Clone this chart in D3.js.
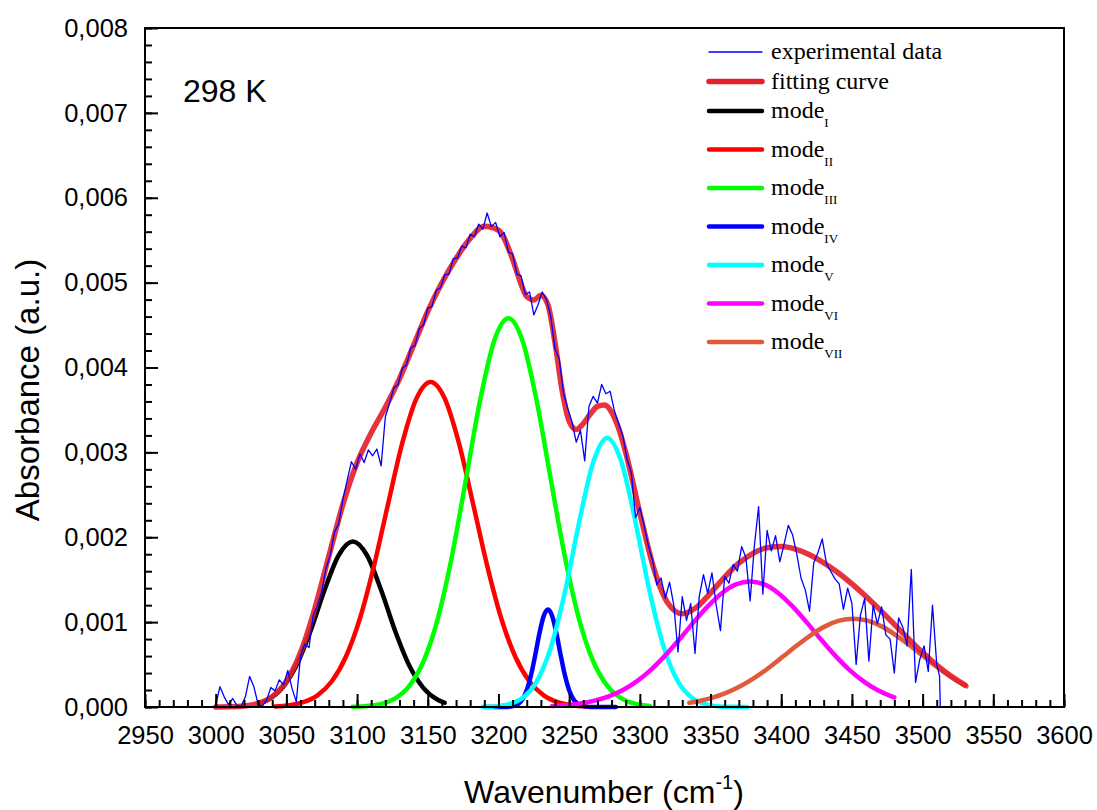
<!DOCTYPE html>
<html>
<head>
<meta charset="utf-8">
<script src="https://cdn.jsdelivr.net/npm/d3@7"></script>
<style>
  body { margin: 0; background: #fff; }
  svg { display: block; }
</style>
</head>
<body>
<svg id="svg" width="1097" height="810"></svg>
<script>
// all absorbance values below are in units of 1e-4 (a.u.)

// experimental spectrum [wavenumber, absorbance]
var expData = [
  [3000,0.2],[3003,2.4],[3006,1.2],[3009,0.3],[3012,1.0],[3015,0.2],[3018,0.1],[3021,1.2],
  [3024,3.6],[3027,2.4],[3030,0.3],[3033,0.1],[3036,0.8],[3039,2.3],[3042,1.9],[3045,3.2],
  [3048,2.6],[3051,4.3],[3054,2.2],[3057,0.6],[3060,6.0],[3063,7.4],[3066,7.0],[3069,10.8],
  [3072,12.0],[3075,13.6],[3078,16.3],[3081,17.9],[3084,20.6],[3087,21.6],[3090,24.5],[3093,26.7],
  [3096,28.9],[3099,28.0],[3102,29.8],[3105,28.8],[3108,30.3],[3111,29.6],[3114,30.4],[3117,28.4],
  [3120,34.2],[3123,35.8],[3126,37.6],[3129,38.0],[3132,39.9],[3135,40.3],[3138,42.3],[3141,42.6],
  [3144,44.6],[3147,45.0],[3150,47.0],[3153,47.2],[3156,49.1],[3159,49.4],[3162,50.9],[3165,51.0],
  [3168,52.8],[3171,52.9],[3174,54.3],[3177,54.1],[3180,55.7],[3183,55.4],[3186,56.9],[3189,56.3],
  [3192,58.2],[3195,56.6],[3198,57.1],[3201,55.4],[3204,55.9],[3207,53.6],[3210,53.4],[3213,51.0],
  [3216,50.8],[3219,48.6],[3222,48.9],[3225,46.2],[3228,47.4],[3231,48.9],[3234,48.0],[3237,46.0],
  [3240,42.2],[3243,41.0],[3246,37.0],[3249,35.2],[3252,33.6],[3255,31.2],[3258,32.6],[3261,29.0],
  [3264,35.4],[3267,36.6],[3270,35.8],[3273,38.0],[3276,36.9],[3279,37.2],[3282,34.9],[3285,33.4],
  [3288,31.9],[3291,29.2],[3294,27.6],[3297,22.3],[3300,23.5],[3303,21.4],[3306,19.0],[3309,17.3],
  [3312,14.4],[3315,15.2],[3318,12.8],[3321,14.7],[3324,12.0],[3327,6.5],[3330,13.0],[3333,10.2],
  [3336,12.2],[3339,6.3],[3342,13.0],[3345,15.6],[3348,13.4],[3351,15.8],[3354,12.0],[3357,9.0],
  [3360,15.4],[3363,14.6],[3366,16.8],[3369,16.0],[3372,18.9],[3375,17.6],[3378,12.5],[3381,19.0],
  [3384,23.6],[3387,13.3],[3390,20.8],[3393,18.4],[3396,20.2],[3399,17.1],[3402,19.2],[3405,21.4],
  [3408,20.3],[3411,18.0],[3414,15.2],[3417,13.8],[3420,11.3],[3423,17.0],[3426,18.2],[3429,19.8],
  [3432,16.9],[3435,16.0],[3438,15.1],[3441,14.5],[3444,11.5],[3447,14.0],[3450,12.2],[3453,5.0],
  [3456,10.8],[3459,12.8],[3462,5.4],[3465,12.0],[3468,9.8],[3471,11.8],[3474,8.5],[3477,8.0],
  [3480,4.0],[3483,10.5],[3486,9.4],[3489,7.2],[3492,16.2],[3495,2.9],[3498,5.6],[3501,7.2],
  [3504,4.2],[3507,12.0],[3510,5.0],[3512,3.6],[3512.5,0]
];

// fitting curve
var fitData = [
  [3000,0.01],[3010,0.03],[3020,0.11],[3030,0.42],[3040,1.22],[3050,3.03],[3060,6.41],[3070,11.52],
  [3080,17.75],[3090,23.88],[3100,28.78],[3110,32.31],[3120,35.31],[3130,38.70],[3140,42.63],
  [3150,46.62],[3160,49.99],[3170,52.84],[3180,55.21],[3190,56.65],[3200,56.17],[3210,52.78],
  [3215,50.29],[3220,48.35],[3225,47.95],[3230,48.51],[3235,47.38],[3240,42.93],[3245,37.33],
  [3250,33.68],[3255,32.69],[3260,33.40],[3265,34.51],[3270,35.42],[3275,35.59],[3280,34.75],
  [3285,32.82],[3290,29.98],[3300,22.85],[3310,16.25],
  [3320,12.20],[3330,10.99],[3340,11.74],[3350,13.43],[3360,15.31],[3370,16.94],[3380,18.11],
  [3390,18.76],[3400,18.90],[3410,18.60],[3420,17.94],[3430,17.00],[3440,15.85],[3450,14.51],
  [3460,13.02],[3470,11.41],[3480,9.73],[3490,8.04],[3500,6.41],[3510,4.93],[3520,3.64],[3530,2.58]
];

// fitted modes
var modeI = [
  [3032,0.50],[3037,0.86],[3047,2.23],[3057,4.86],[3067,8.93],[3077,13.78],[3087,17.88],[3097,19.5],
  [3107,17.88],[3117,13.78],[3127,8.93],[3137,4.86],[3147,2.23],[3157,0.86],[3162,0.50]
];
var modeII = [
  [3042,0.07],[3052,0.21],[3062,0.57],[3072,1.37],[3082,3.00],[3092,5.89],[3102,10.43],[3112,16.66],
  [3122,23.98],[3132,31.11],[3142,36.35],[3152,38.3],[3162,36.35],[3172,31.11],[3182,23.98],
  [3192,16.66],[3202,10.43],[3212,5.89],[3222,3.00],[3232,1.37],[3242,0.57],[3252,0.21],[3262,0.07]
];
var modeIII = [
  [3097,0.03],[3107,0.12],[3117,0.37],[3127,1.02],[3137,2.49],[3147,5.39],[3157,10.36],[3167,17.69],
  [3177,26.82],[3187,36.11],[3197,43.16],[3207,45.8],[3217,43.16],[3227,36.11],[3237,26.82],
  [3247,17.69],[3257,10.36],[3267,5.39],[3277,2.49],[3287,1.02],[3297,0.37],[3307,0.12]
];
var modeIV = [
  [3190,0],[3205,0.01],[3211,0.13],[3214,0.37],[3217,0.92],[3220,1.98],[3223,3.73],[3226,6.11],
  [3229,8.68],[3232,10.72],[3235,11.5],[3238,10.72],[3241,8.68],[3244,6.11],[3247,3.73],[3250,1.98],
  [3253,0.92],[3256,0.37],[3259,0.13],[3265,0.01],[3283,0]
];
var modeV = [
  [3189,0.02],[3197,0.07],[3207,0.31],[3217,1.06],[3227,2.98],[3237,6.99],[3247,13.54],[3257,21.72],
  [3267,28.84],[3277,31.7],[3287,28.84],[3297,21.72],[3307,13.54],[3317,6.99],[3327,2.98],
  [3337,1.06],[3347,0.31],[3357,0.07],[3367,0.02],[3376,0]
];
var modeVI = [
  [3238,0.12],[3248,0.23],[3258,0.42],[3268,0.75],[3278,1.25],[3288,2.00],[3298,3.05],[3308,4.41],
  [3318,6.08],[3328,7.98],[3338,9.97],[3348,11.85],[3358,13.41],[3368,14.44],[3378,14.8],[3388,14.44],
  [3398,13.41],[3408,11.85],[3418,9.97],[3428,7.98],[3438,6.08],[3448,4.41],[3458,3.05],[3468,2.00],
  [3478,1.25],[3480,1.13]
];
var modeVII = [
  [3335,0.49],[3341,0.67],[3351,1.08],[3361,1.66],[3371,2.44],[3381,3.43],[3391,4.60],[3401,5.91],
  [3411,7.24],[3421,8.48],[3431,9.50],[3441,10.17],[3451,10.4],[3461,10.17],[3471,9.50],[3481,8.48],
  [3491,7.24],[3501,5.91],[3511,4.60],[3521,3.43],[3531,2.44]
];

var modeLabels = ["I", "II", "III", "IV", "V", "VI", "VII"];
var modeColors = ["#000000", "#ff0000", "#00ff00", "#0000ff", "#00ffff", "#ff00ff", "#e05a3c"];
var modeSeries = [modeI, modeII, modeIII, modeIV, modeV, modeVI, modeVII];

var xTickLabels = d3.range(2950, 3601, 50);
var yTickLabels = [0, 0.001, 0.002, 0.003, 0.004, 0.005, 0.006, 0.007, 0.008];

var svg = d3.select("#svg");
var margin = {left: 145, right: 1064, top: 28, bottom: 707};

var x = d3.scaleLinear().domain([2950, 3600]).range([margin.left, margin.right]);
var y = d3.scaleLinear().domain([0, 0.008]).range([margin.bottom, margin.top]);

var sans = "'Liberation Sans', Arial, sans-serif";
var serif = "'Liberation Serif', 'Times New Roman', serif";

var smooth = d3.line()
  .x(function(d) { return x(d[0]); })
  .y(function(d) { return y(d[1] * 1e-4); })
  .curve(d3.curveMonotoneX);
var raw = d3.line()
  .x(function(d) { return x(d[0]); })
  .y(function(d) { return y(d[1] * 1e-4); });

// モード曲線
var modes = svg.append("g").attr("class", "modes");
modeSeries.forEach(function(s, i) {
  modes.append("path")
    .attr("d", smooth(s))
    .attr("fill", "none")
    .attr("stroke", modeColors[i])
    .attr("stroke-width", 4.5)
    .attr("stroke-linecap", "round");
});

// フィッティング曲線
svg.append("path")
  .attr("d", smooth(fitData))
  .attr("fill", "none")
  .attr("stroke", "#e4222c")
  .attr("stroke-opacity", 0.92)
  .attr("stroke-width", 5.5)
  .attr("stroke-linecap", "round");

// 実験データ
svg.append("path")
  .attr("d", raw(expData))
  .attr("fill", "none")
  .attr("stroke", "#0000ff")
  .attr("stroke-width", 1.3)
  .attr("stroke-linejoin", "round");

// axes (ticks inward)
function styleAxis(g) {
  g.select(".domain").remove();
  g.selectAll(".tick line").attr("stroke", "#000").attr("stroke-width", 2);
  g.selectAll(".tick text").attr("font-family", sans).attr("font-size", 25.5).attr("fill", "#000");
}

svg.append("g")
  .attr("transform", "translate(0," + margin.bottom + ")")
  .call(d3.axisBottom(x).tickValues(d3.range(2950, 3601, 10)).tickSize(-7).tickFormat(""))
  .call(styleAxis);
svg.append("g")
  .attr("transform", "translate(0," + margin.bottom + ")")
  .call(d3.axisBottom(x).tickValues(xTickLabels).tickSize(-13).tickPadding(24).tickFormat(d3.format("d")))
  .call(styleAxis)
  .selectAll(".tick text").attr("dy", "0.5em");

svg.append("g")
  .attr("transform", "translate(" + margin.left + ",0)")
  .call(d3.axisLeft(y).tickValues(d3.range(0, 0.00801, 0.0002)).tickSize(-7).tickFormat(""))
  .call(styleAxis);
svg.append("g")
  .attr("transform", "translate(" + margin.left + ",0)")
  .call(d3.axisLeft(y).tickValues(yTickLabels).tickSize(-13).tickPadding(17)
    .tickFormat(function(d) { return d3.format(".3f")(d).replace(".", ","); }))
  .call(styleAxis);

// frame
svg.append("rect")
  .attr("x", margin.left).attr("y", margin.top)
  .attr("width", margin.right - margin.left).attr("height", margin.bottom - margin.top)
  .attr("fill", "none").attr("stroke", "#000").attr("stroke-width", 2);

// axis titles
var xt = svg.append("text")
  .attr("x", 604).attr("y", 803)
  .attr("text-anchor", "middle")
  .attr("font-family", sans).attr("font-size", 32);
xt.append("tspan").text("Wavenumber (cm");
xt.append("tspan").attr("font-size", 20).attr("dy", -14).text("-1");
xt.append("tspan").attr("dy", 14).text(")");

svg.append("text")
  .attr("transform", "translate(39," + 390 + ") rotate(-90)")
  .attr("text-anchor", "middle")
  .attr("font-family", sans).attr("font-size", 33)
  .text("Absorbance (a.u.)");

svg.append("text")
  .attr("x", 183).attr("y", 102)
  .attr("font-family", sans).attr("font-size", 32)
  .text("298 K");

// legend
var legendItems = [
  {label: "experimental data", color: "#0000ff", width: 1.3, sub: null},
  {label: "fitting curve", color: "#e4222c", width: 5.5, sub: null}
].concat(modeLabels.map(function(m, i) {
  return {label: "mode", color: modeColors[i], width: 4.5, sub: m};
}));

var legend = svg.append("g").attr("class", "legend");
legendItems.forEach(function(d, i) {
  var ly = i < 3 ? 52 + 29.5 * i : 111 + 38.5 * (i - 2);
  legend.append("line")
    .attr("x1", 709).attr("x2", 762).attr("y1", ly).attr("y2", ly)
    .attr("stroke", d.color).attr("stroke-width", d.width)
    .attr("stroke-linecap", "round");
  var t = legend.append("text")
    .attr("x", 771).attr("y", ly + 7)
    .attr("font-family", serif).attr("font-size", 24).attr("fill", "#000");
  t.append("tspan").text(d.label);
  if (d.sub) t.append("tspan").attr("font-size", 13).attr("dy", 9).text(d.sub);
});
</script>
</body>
</html>
